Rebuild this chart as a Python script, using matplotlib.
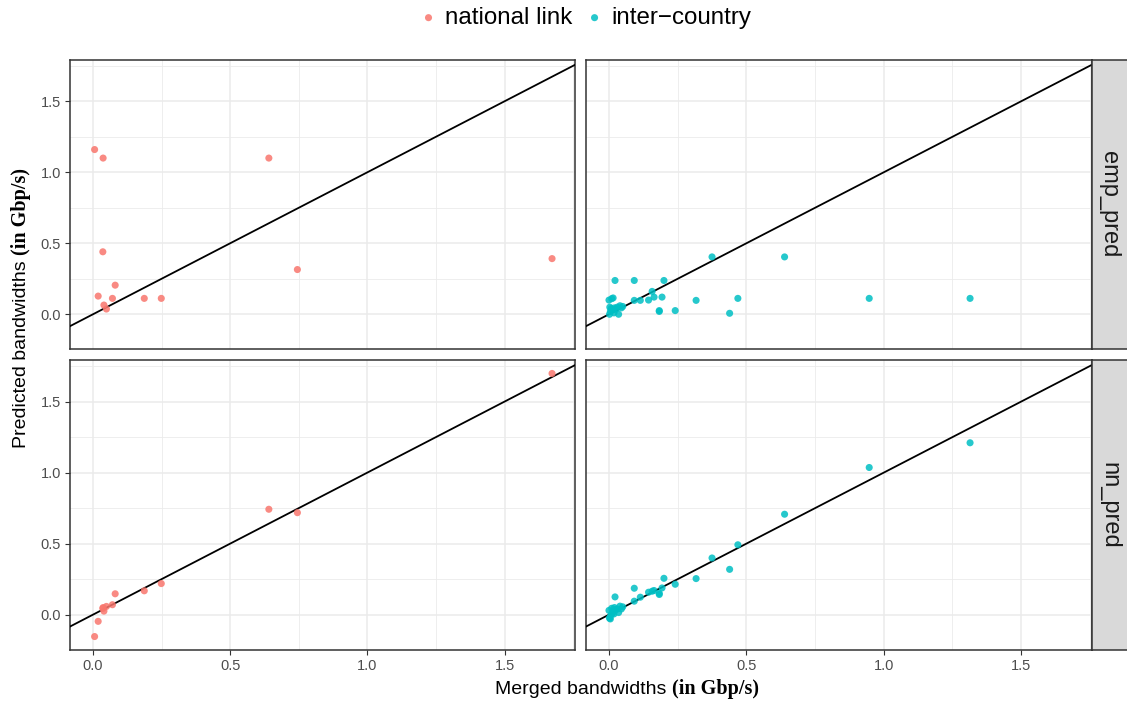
import numpy as np
import matplotlib; matplotlib.use("Agg")
import matplotlib.pyplot as plt
from matplotlib.ticker import MultipleLocator

# ---- data --------------------------------------------------------------------------------------
nat_x   = [0.006, 0.019, 0.036, 0.037, 0.040, 0.049, 0.071, 0.081, 0.187, 0.249, 0.641, 0.745, 1.673]
nat_emp = [1.160, 0.128, 0.440, 1.100, 0.065, 0.037, 0.112, 0.205, 0.112, 0.112, 1.100, 0.315, 0.392]
nat_nn  = [-0.154, -0.047, 0.044, 0.050, 0.025, 0.058, 0.070, 0.147, 0.168, 0.219, 0.742, 0.718, 1.698]

int_x   = [1.314, 0.947, 0.639, 0.469, 0.439, 0.375, 0.317, 0.241, 0.200, 0.193, 0.183, 0.183,
           0.164, 0.157, 0.144, 0.114, 0.092, 0.092, 0.022,
           0.000, 0.010, 0.015, 0.003, 0.008, 0.005, 0.012, 0.020, 0.025, 0.030, 0.040, 0.045,
           0.050, 0.035, 0.002, 0.018]
int_emp = [0.112, 0.112, 0.404, 0.112, 0.007, 0.404, 0.098, 0.026, 0.238, 0.121, 0.026, 0.020,
           0.121, 0.161, 0.100, 0.098, 0.238, 0.098, 0.238,
           0.100, 0.110, 0.115, 0.050, 0.040, 0.020, 0.030, 0.045, 0.035, 0.050, 0.060, 0.045,
           0.055, 0.000, 0.000, 0.010]
int_nn  = [1.210, 1.036, 0.707, 0.492, 0.319, 0.399, 0.254, 0.214, 0.256, 0.188, 0.142, 0.150,
           0.170, 0.165, 0.158, 0.123, 0.186, 0.095, 0.125,
           0.030, 0.045, 0.020, -0.020, 0.000, -0.030, 0.010, 0.050, 0.035, 0.040, 0.060, 0.040,
           0.055, 0.015, -0.025, 0.005]

rows = ["emp_pred", "nn_pred"]
series = [("national link", "#F8766D", nat_x, {"emp_pred": nat_emp, "nn_pred": nat_nn}),
          ("inter\u2212country", "#00BFC4", int_x, {"emp_pred": int_emp, "nn_pred": int_nn})]

# ggplot-style 5% expansion, shared scales
allx = nat_x + int_x
ally = nat_emp + nat_nn + int_emp + int_nn
def expand(v):
    lo, hi = min(v), max(v); d = 0.05 * (hi - lo)
    return lo - d, hi + d
xlim, ylim = expand(allx), expand(ally)

W, H = 1127, 702
plt.rcParams["font.family"] = ["Liberation Sans", "DejaVu Sans"]
fig = plt.figure(figsize=(W / 100, H / 100), dpi=100)

cols_px = [(70, 575), (586, 1091.7)]
rows_px = [(60, 349.3), (360.3, 649.7)]
def rect(x0, x1, y0, y1):
    return [x0 / W, 1 - y1 / H, (x1 - x0) / W, (y1 - y0) / H]

handles = []
for ri, r in enumerate(rows):
    for ci, (lbl, col, xs, ys) in enumerate(series):
        (x0, x1), (y0, y1) = cols_px[ci], rows_px[ri]
        ax = fig.add_axes(rect(x0, x1, y0, y1))
        ax.set_xlim(xlim); ax.set_ylim(ylim)
        ax.xaxis.set_major_locator(MultipleLocator(0.5)); ax.xaxis.set_minor_locator(MultipleLocator(0.25))
        ax.yaxis.set_major_locator(MultipleLocator(0.5)); ax.yaxis.set_minor_locator(MultipleLocator(0.25))
        ax.grid(which="major", color="#EBEBEB", lw=1.1, zorder=0)
        ax.grid(which="minor", color="#EBEBEB", lw=0.6, zorder=0)
        ax.set_axisbelow(True)
        for s in ax.spines.values():
            s.set_color("#333333"); s.set_linewidth(1.1)
        ax.tick_params(which="minor", length=0)
        ax.tick_params(which="major", length=3.5, width=0.8, color="#333333",
                       labelsize=10.5, labelcolor="#4D4D4D", pad=3)
        if ri == 0:
            ax.tick_params(axis="x", which="major", length=0, labelbottom=False)
        if ci == 1:
            ax.tick_params(axis="y", which="major", length=0, labelleft=False)
        ax.axline((0, 0), slope=1, color="black", lw=1.3, zorder=3)
        h = ax.scatter(xs, ys[r], s=26, color=col, alpha=0.85, edgecolors="none", zorder=4, label=lbl)
        if ri == 0:
            handles.append(h)
    # strip on the right
    (y0, y1) = rows_px[ri]
    sax = fig.add_axes(rect(1091.7, 1127, y0, y1))
    sax.set_facecolor("#D9D9D9")
    sax.set_xticks([]); sax.set_yticks([])
    for s in sax.spines.values():
        s.set_color("#333333"); s.set_linewidth(1.1)
    sax.spines["right"].set_visible(False)
    sax.text(0.5, 0.5, r, rotation=-90, ha="center", va="center", fontsize=17,
             color="#1A1A1A", transform=sax.transAxes)

# axis titles: plain sans head + bold serif tail, centred as one piece
rend = fig.canvas.get_renderer()
def two_part(cx, cy, rot):
    kw = dict(rotation=rot, rotation_mode="anchor")
    a = fig.text(0, 0, "Merged bandwidths " if rot == 0 else "Predicted bandwidths ",
                 fontsize=14, va="center" if rot == 0 else "baseline", **kw)
    b = fig.text(0, 0, "(in Gbp/s)", fontsize=14.5, family="Liberation Serif", weight="bold",
                 va="center" if rot == 0 else "baseline", **kw)
    wa = a.get_window_extent(rend); wb = b.get_window_extent(rend)
    if rot == 0:
        tot = wa.width + wb.width
        start = cx - tot / 2
        a.set_position((start / W, 1 - cy / H)); b.set_position(((start + wa.width) / W, 1 - cy / H))
    else:
        tot = wa.height + wb.height
        start = cy + tot / 2  # bottom in pixel-from-top coords
        a.set_position((cx / W, 1 - start / H))
        b.set_position((cx / W, 1 - (start - wa.height) / H))

two_part(627, 689, 0)
two_part(26, 308, 90)

fig.legend(handles=handles, loc="upper center", bbox_to_anchor=(0.516, 1.021), ncol=2, frameon=False,
           fontsize=17.4, handletextpad=0.0, columnspacing=0.2, markerscale=1.0, handlelength=1.4)

fig.savefig("out.png", dpi=100)
